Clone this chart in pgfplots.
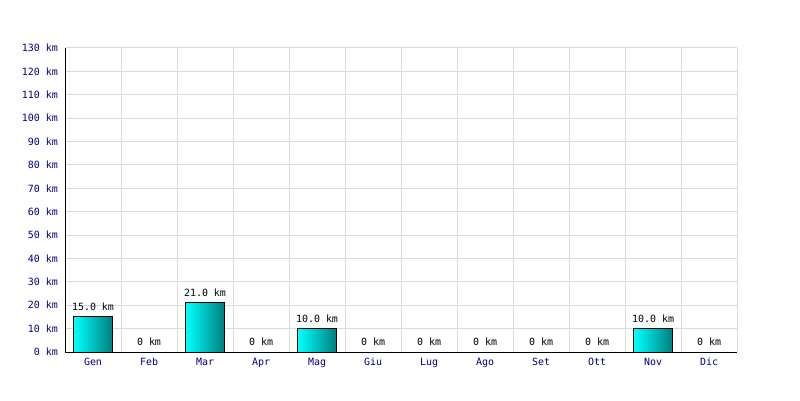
\documentclass[border=0pt]{standalone}
\usepackage{fontspec}
\setmainfont{DejaVu Sans Mono}
\usepackage{pgfplots}
\pgfplotsset{compat=1.18}
\definecolor{navyc}{RGB}{0,0,128}
\definecolor{gridc}{RGB}{218,218,218}
\definecolor{tealc}{RGB}{0,128,128}
\definecolor{cyanc}{RGB}{0,255,255}
\begin{document}
\begin{tikzpicture}[x=1bp,y=1bp]
\useasboundingbox (0,0) rectangle (800,400);
\fill[white] (0,0) rectangle (800,400);
\begin{axis}[at={(65bp,48bp)}, anchor=south west, scale only axis,
  width=672bp, height=304bp,
  xmin=-0.5, xmax=11.5, ymin=0, ymax=130,
  axis x line*=bottom, axis y line*=left,
  axis line style={-, black, line width=1bp},
  xtick={0,...,11},
  xticklabels={Gen,Feb,Mar,Apr,Mag,Giu,Lug,Ago,Set,Ott,Nov,Dic},
  minor xtick={-0.5,0.5,1.5,2.5,3.5,4.5,5.5,6.5,7.5,8.5,9.5,10.5,11.5},
  xminorgrids, ymajorgrids,
  ytick={0,10,...,130},
  /pgf/number format/assume math mode=true,
  yticklabel={\pgfmathprintnumber{\tick} km},
  grid style={gridc, line width=1bp},
  minor grid style={gridc, line width=1bp},
  major tick length=0pt, minor tick length=0pt,
  tick style={draw=none},
  ticklabel style={navyc, font=\fontsize{10}{12}\selectfont, inner sep=0pt},
  xticklabel style={anchor=base, yshift=-13bp},
  yticklabel style={anchor=east, xshift=-7bp},
  barst/.style={ybar, bar shift=0pt, bar width=0.68, draw=black, line width=1bp, left color=cyanc, right color=tealc},
]
\addplot[barst] coordinates {(0,15)};
\addplot[barst] coordinates {(2,21)};
\addplot[barst] coordinates {(4,10)};
\addplot[barst] coordinates {(10,10)};
\addplot[draw=none, nodes near coords, point meta=explicit symbolic,
  nodes near coords style={anchor=base, yshift=6.5bp, inner sep=0pt, black, font=\fontsize{10}{12}\selectfont}]
  coordinates {(0,15) [15.0 km] (1,0) [0 km] (2,21) [21.0 km] (3,0) [0 km] (4,10) [10.0 km] (5,0) [0 km]
   (6,0) [0 km] (7,0) [0 km] (8,0) [0 km] (9,0) [0 km] (10,10) [10.0 km] (11,0) [0 km]};
\end{axis}
\end{tikzpicture}
\end{document}
